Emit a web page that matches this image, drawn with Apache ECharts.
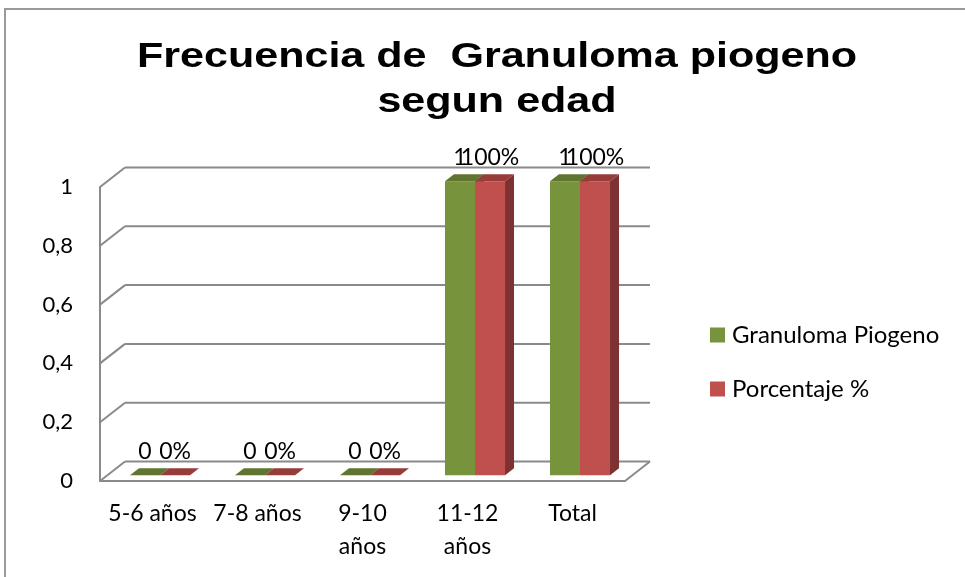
<!DOCTYPE html>
<html>
<head>
<meta charset="utf-8">
<script src="https://cdn.jsdelivr.net/npm/echarts@6/dist/echarts.min.js"></script>
<style>
  html, body { margin: 0; padding: 0; background: #fff; }
  #chart { width: 965px; height: 577px; }
</style>
</head>
<body>
<div id="chart"></div>
<script>
const categories = ["5-6 años", "7-8 años", "9-10\naños", "11-12\naños", "Total"];
const granuloma = [0, 0, 0, 1, 1];
const porcentaje = [0, 0, 0, 1, 1];
const porcentajeLabels = ["0%", "0%", "0%", "100%", "100%"];
const yTicks = [0, 0.2, 0.4, 0.6, 0.8, 1];
const titleText = "Frecuencia de  Granuloma piogeno\nsegun edad";

// fake 3d depth, in pixels
const DX = 25;
const DY = -19.5;
const D0 = 0.3;
const D1 = 0.66;
const FONT = "Lato, 'Noto Sans', sans-serif";
const GRID_LINE = "#8a8a8a";

function barRenderer(slot, colors, labels) {
  return function (params, api) {
    const i = api.value(0);
    const v = api.value(1);
    const top = api.coord([i, v]);
    const base = api.coord([i, 0]);
    const band = api.size([1, 0])[0];
    const w = band * 0.286;
    const x0 = top[0] - w + slot * w + D0 * DX;
    const x1 = x0 + w;
    const yT = top[1] + D0 * DY;
    const yB = base[1] + D0 * DY;
    const ddx = (D1 - D0) * DX;
    const ddy = (D1 - D0) * DY;

    return {
      type: "group",
      children: [
        {
          type: "rect",
          shape: { x: x0, y: yT, width: w, height: yB - yT },
          style: { fill: colors.front },
        },
        {
          type: "polygon",
          shape: { points: [[x1, yT], [x1 + ddx, yT + ddy], [x1 + ddx, yB + ddy], [x1, yB]] },
          style: { fill: colors.side },
        },
        {
          type: "polygon",
          shape: { points: [[x0, yT], [x1, yT], [x1 + ddx, yT + ddy], [x0 + ddx, yT + ddy]] },
          style: { fill: colors.top },
        },
        {
          type: "text",
          style: {
            x: x0 + w / 2,
            y: yT - 12,
            text: labels[params.dataIndex],
            fill: "#000",
            font: "23px " + FONT,
            align: "center",
            verticalAlign: "bottom",
          },
          z2: 10,
        },
      ],
    };
  };
}

function frameRenderer(params, api) {
  const v = api.value(1);
  const cs = params.coordSys;
  const y = api.coord([0, v])[1];
  const style = { stroke: GRID_LINE, lineWidth: 2 };
  const children = [
    { type: "line", shape: { x1: cs.x, y1: y, x2: cs.x + DX, y2: y + DY }, style },
    { type: "line", shape: { x1: cs.x + DX, y1: y + DY, x2: cs.x + cs.width + DX, y2: y + DY }, style },
  ];
  if (v === 0) {
    children.push({
      type: "line",
      shape: { x1: cs.x + cs.width, y1: y, x2: cs.x + cs.width + DX, y2: y + DY },
      style,
    });
  }
  return { type: "group", children };
}

const chart = echarts.init(document.getElementById("chart"));

chart.setOption({
  animation: false,
  backgroundColor: "#fff",
  graphic: [
    {
      type: "rect",
      shape: { x: 5, y: 9, width: 1000, height: 600 },
      style: { fill: "none", stroke: "#9a9a9a", lineWidth: 2 },
      silent: true,
    },
    {
      // title is stretched sideways in the original
      type: "text",
      x: 497,
      y: 35,
      scaleX: 1.23,
      style: {
        x: 0,
        y: 0,
        text: titleText,
        font: "bold 35px 'Liberation Sans', Arial, sans-serif",
        lineHeight: 45,
        align: "center",
        verticalAlign: "top",
        fill: "#000",
      },
    },
  ],
  legend: {
    orient: "vertical",
    left: 710,
    top: 323,
    padding: 0,
    icon: "rect",
    itemWidth: 15,
    itemHeight: 15,
    itemGap: 30,
    data: ["Granuloma Piogeno", "Porcentaje %"],
    textStyle: { fontFamily: FONT, fontSize: 24, lineHeight: 24, color: "#000", padding: [0, 0, 0, 2] },
  },
  grid: { left: 100, top: 187, right: 340, bottom: 96 },
  xAxis: {
    type: "category",
    data: categories,
    axisLine: { show: true, lineStyle: { color: GRID_LINE, width: 2 } },
    axisTick: { show: false },
    axisLabel: {
      color: "#000",
      fontFamily: FONT,
      fontSize: 23,
      lineHeight: 33,
      margin: 16,
      interval: 0,
    },
  },
  yAxis: {
    type: "value",
    min: 0,
    max: 1,
    interval: 0.2,
    axisLine: { show: true, lineStyle: { color: GRID_LINE, width: 2 } },
    axisTick: { show: false },
    splitLine: { show: false },
    axisLabel: {
      color: "#000",
      fontFamily: FONT,
      fontSize: 22,
      margin: 27,
      padding: [7, 0, 0, 0],
      formatter: (v) => String(Math.round(v * 10) / 10).replace(".", ","),
    },
  },
  series: [
    {
      name: "frame",
      type: "custom",
      z: 1,
      silent: true,
      renderItem: frameRenderer,
      encode: { x: 0, y: 1 },
      data: yTicks.map((t) => [0, t]),
    },
    {
      name: "Granuloma Piogeno",
      type: "custom",
      z: 2,
      itemStyle: { color: "#77933C" },
      renderItem: barRenderer(0, { front: "#77933C", side: "#4f6228", top: "#5f7530" }, granuloma.map(String)),
      encode: { x: 0, y: 1 },
      data: granuloma.map((v, i) => [i, v]),
    },
    {
      name: "Porcentaje %",
      type: "custom",
      z: 3,
      itemStyle: { color: "#C0504D" },
      renderItem: barRenderer(1, { front: "#C0504D", side: "#7d3130", top: "#963c3a" }, porcentajeLabels),
      encode: { x: 0, y: 1 },
      data: porcentaje.map((v, i) => [i, v]),
    },
  ],
});
</script>
</body>
</html>
